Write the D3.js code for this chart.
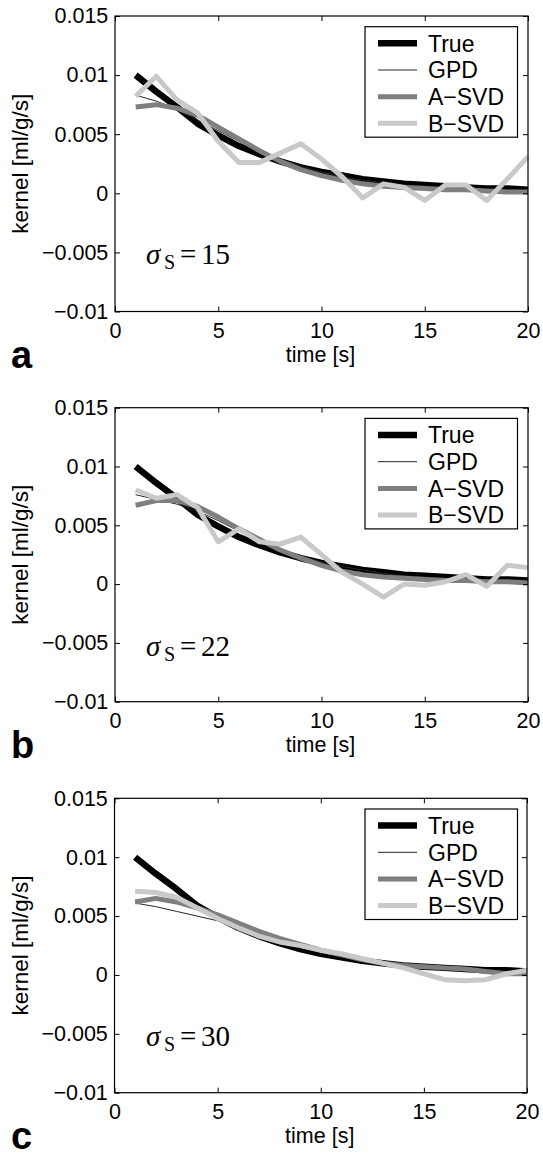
<!DOCTYPE html>
<html>
<head>
<meta charset="utf-8">
<script src="https://cdn.jsdelivr.net/npm/d3@7"></script>
<style>
  body { margin: 0; background: #fff; }
  svg { display: block; }
</style>
</head>
<body>
<div id="chart"></div>
<script>
// time samples [s]
var time = [1,2,3,4,5,6,7,8,9,10,11,12,13,14,15,16,17,18,19,20];

// true kernel, same in every panel
var trueKernel = [0.0100,0.0086,0.0073,0.0059,0.0049,0.0040,0.0033,0.0027,0.0022,0.0018,
                  0.0015,0.0012,0.0010,0.0008,0.0007,0.0006,0.0005,0.0004,0.0004,0.0003];

// panel a, sigma_s = 15
var gpdA  = [0.0083,0.0078,0.0071,0.0062,0.0053,0.0044,0.0036,0.0029,0.0023,0.0018,
             0.0014,0.0011,0.0009,0.0007,0.0006,0.0005,0.0004,0.0003,0.0003,0.0002];
var asvdA = [0.0073,0.0075,0.0072,0.0066,0.0056,0.0046,0.0036,0.0027,0.0020,0.0015,
             0.0011,0.0008,0.0006,0.0005,0.0004,0.0003,0.0003,0.0002,0.0001,0.0001];
var bsvdA = [0.0082,0.0099,0.0079,0.0068,0.0044,0.0026,0.0026,0.0034,0.0042,0.0029,
             0.0014,-0.0004,0.0008,0.0005,-0.0006,0.0007,0.0007,-0.0006,0.0012,0.0031];

// panel b, sigma_s = 22
var gpdB  = [0.0076,0.0072,0.0068,0.0062,0.0054,0.0045,0.0037,0.0030,0.0024,0.0019,
             0.0015,0.0012,0.0009,0.0007,0.0006,0.0005,0.0004,0.0003,0.0003,0.0002];
var asvdB = [0.0067,0.0071,0.0071,0.0066,0.0057,0.0047,0.0038,0.0029,0.0022,0.0016,
             0.0011,0.0008,0.0006,0.0005,0.0004,0.0003,0.0003,0.0002,0.0002,0.0001];
var bsvdB = [0.0080,0.0073,0.0076,0.0065,0.0036,0.0047,0.0036,0.0034,0.0040,0.0025,
             0.0010,0.0000,-0.0011,0.0000,-0.0001,0.0002,0.0008,-0.0002,0.0016,0.0014];

// panel c, sigma_s = 30
var gpdC  = [0.0061,0.0058,0.0054,0.0050,0.0046,0.0041,0.0035,0.0030,0.0025,0.0021,
             0.0017,0.0014,0.0011,0.0009,0.0007,0.0005,0.0004,0.0003,0.0002,0.0002];
var asvdC = [0.0062,0.0065,0.0062,0.0057,0.0051,0.0044,0.0037,0.0031,0.0026,0.0021,
             0.0017,0.0013,0.0010,0.0008,0.0007,0.0006,0.0005,0.0003,0.0001,0.0001];
var bsvdC = [0.0071,0.0070,0.0066,0.0057,0.0048,0.0040,0.0033,0.0028,0.0025,0.0021,
             0.0018,0.0014,0.0010,0.0006,0.0001,-0.0004,-0.0005,-0.0004,0.0001,0.0004];

var seriesNames = ["True","GPD","A\u2212SVD","B\u2212SVD"];
var panelLetters = ["a","b","c"];
var sigmaValues = ["15","22","30"];
var xTicks = [0,5,10,15,20];
var yTicks = [-0.01,-0.005,0,0.005,0.01,0.015];

var panelData = [
  [trueKernel, gpdA, asvdA, bsvdA],
  [trueKernel, gpdB, asvdB, bsvdB],
  [trueKernel, gpdC, asvdC, bsvdC]
];

// line looks: True, GPD, A-SVD, B-SVD
var strokeColors = ["#000000","#262626","#7f7f7f","#c9c9c9"];
var strokeWidths = [6.5, 1, 5, 5];

var W = 543, H = 1156;
var font = "'Liberation Sans', Arial, Helvetica, sans-serif";
var serif = "'Liberation Serif', 'Times New Roman', serif";

var svg = d3.select("#chart").append("svg")
  .attr("width", W)
  .attr("height", H);

// frame of each panel
var frames = [
  {left: 115,   right: 528, top: 16,    bottom: 311.5},
  {left: 115,   right: 528, top: 407.7, bottom: 701.7},
  {left: 114.5, right: 527, top: 798.3, bottom: 1092.7}
];

function drawPanel(p){
  var f = frames[p];
  var g = svg.append("g").attr("class","panel");

  var x = d3.scaleLinear().domain([0,20]).range([f.left, f.right]);
  var y = d3.scaleLinear().domain([-0.01,0.015]).range([f.bottom, f.top]);

  // lines
  var line = d3.line()
    .x(function(d){ return x(d[0]); })
    .y(function(d){ return y(d[1]); });

  panelData[p].forEach(function(vals, i){
    g.append("path")
      .datum(time.map(function(t, k){ return [t, vals[k]]; }))
      .attr("fill","none")
      .attr("stroke", strokeColors[i])
      .attr("stroke-width", strokeWidths[i])
      .attr("stroke-linejoin","round")
      .attr("d", line);
  });

  // axes, ticks pointing in like matlab
  var fmt = d3.format("");
  var ax = g.append("g").attr("transform","translate(0," + f.bottom + ")")
    .call(d3.axisBottom(x).tickValues(xTicks).tickSizeInner(-5).tickSizeOuter(0).tickPadding(11));
  var ay = g.append("g").attr("transform","translate(" + f.left + ",0)")
    .call(d3.axisLeft(y).tickValues(yTicks).tickFormat(fmt).tickSizeInner(-5).tickSizeOuter(0).tickPadding(6.7));
  var at = g.append("g").attr("transform","translate(0," + f.top + ")")
    .call(d3.axisTop(x).tickValues(xTicks).tickFormat("").tickSizeInner(-5).tickSizeOuter(0));
  var ar = g.append("g").attr("transform","translate(" + f.right + ",0)")
    .call(d3.axisRight(y).tickValues(yTicks).tickFormat("").tickSizeInner(-5).tickSizeOuter(0));

  [ax, ay, at, ar].forEach(function(a){
    a.select(".domain").remove();
    a.attr("font-family", font).attr("font-size", 21.5);
    a.selectAll("text").attr("fill","#000");
    a.selectAll("line").attr("stroke","#000");
  });

  g.append("rect")
    .attr("x", f.left).attr("y", f.top)
    .attr("width", f.right - f.left).attr("height", f.bottom - f.top)
    .attr("fill","none").attr("stroke","#000").attr("stroke-width",1.2);

  // axis labels
  g.append("text")
    .attr("x", (f.left + f.right)/2 - 1).attr("y", f.bottom + 50)
    .attr("text-anchor","middle")
    .attr("font-family", font).attr("font-size", 21.5)
    .text("time [s]");

  g.append("text")
    .attr("transform","translate(28," + (f.top + f.bottom)/2 + ") rotate(-90)")
    .attr("text-anchor","middle")
    .attr("font-family", font).attr("font-size", 22.5)
    .text("kernel [ml/g/s]");

  // panel letter
  g.append("text")
    .attr("x", 11).attr("y", f.bottom + 56)
    .attr("font-family", font).attr("font-size", 38).attr("font-weight","bold")
    .text(panelLetters[p]);

  // sigma_s label
  var sy = f.top + 248;
  var st = g.append("text")
    .attr("font-family", serif).attr("font-size", 29);
  st.append("tspan").attr("x", 146).attr("y", sy)
    .attr("font-style","italic").text("\u03c3");
  st.append("tspan").attr("x", 164).attr("y", sy + 5)
    .attr("font-size", 20).text("S");
  st.append("tspan").attr("x", 180).attr("y", sy).text("=");
  st.append("tspan").attr("x", 201).attr("y", sy).text(sigmaValues[p]);

  // legend
  var lg = g.append("g");
  lg.append("rect")
    .attr("x", 365).attr("y", f.top + 10.7)
    .attr("width", 152.5).attr("height", 110.5)
    .attr("fill","#fff").attr("stroke","#000").attr("stroke-width",1.2);
  var rowY = [27.3, 54, 80.8, 107.3];
  seriesNames.forEach(function(name, i){
    var yy = f.top + rowY[i];
    lg.append("line")
      .attr("x1", 378).attr("x2", 417)
      .attr("y1", yy).attr("y2", yy)
      .attr("stroke", strokeColors[i])
      .attr("stroke-width", strokeWidths[i]);
    lg.append("text")
      .attr("x", 428).attr("y", yy + 8.2)
      .attr("font-family", font).attr("font-size", 23)
      .text(name);
  });
}

for (var p = 0; p < 3; p++){
  drawPanel(p);
}
</script>
</body>
</html>
